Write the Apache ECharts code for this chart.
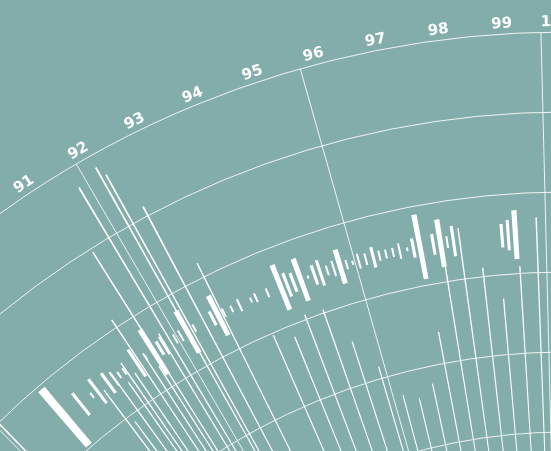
<!DOCTYPE html>
<html><head><meta charset="utf-8">
<script src="https://cdn.jsdelivr.net/npm/echarts@6/dist/echarts.min.js"></script>
<style>html,body{margin:0;padding:0;background:#83adaa;overflow:hidden}#c{width:551px;height:451px}</style>
</head><body><div id="c"></div>
<script>
// ---------- data ----------
// angle-axis tick labels
const angleLabels = [91, 92, 93, 94, 95, 96, 97, 98, 99, 100];
// thin spikes: [angle, outer radius]
const spikes = [
  [88.08, 107.4], [90.13, 94.5], [90.26, 89.0], [90.45, 95.5], [90.64, 93.5],
  [90.74, 96.0], [90.86, 94.0], [91.07, 101.1], [91.22, 95.5], [91.36, 93.0],
  [91.46, 109.5], [91.71, 96.5], [91.84, 117.3],
  [92.25, 118.4], [92.34, 117.0], [92.64, 111.3], [93.05, 101.9], [93.84, 89.7],
  [94.26, 88.5], [94.64, 90.6], [95.05, 90.4], [95.44, 85.5], [95.86, 81.5],
  [96.25, 77.3], [96.63, 76.4], [97.04, 77.8], [97.43, 84.0], [97.83, 92.0],
  [98.21, 96.4], [98.62, 91.1], [99.01, 87.0], [99.42, 90.9], [99.81, 96.9]
];
// waveform bars (centred on waveCenter): [angle, length]
const waveCenter = 94.875;
const waveHuge = [[89.15, 9.14]];
const waveLarge = [
  [91.43, 6.58], [92.24, 5.96], [92.96, 5.53], [94.38, 6.01], [94.82, 5.59],
  [95.68, 4.41], [97.38, 8.18], [97.81, 6.0], [99.37, 6.11]
];
const waveMedium = [
  [89.575, 3.48], [90.01, 3.75], [90.29, 3.03], [91.01, 4.03], [91.58, 1.95],
  [91.69, 2.54], [92.83, 1.96], [94.52, 3.13], [94.66, 2.5], [95.12, 2.55],
  [95.25, 3.3], [96.39, 2.6], [97.24, 2.44], [97.66, 2.63], [98.08, 3.84],
  [99.09, 2.95], [99.22, 3.8]
];
const waveSmall = [
  [89.87, 0.8], [90.44, 2.05], [90.57, 0.9], [90.70, 0.93], [91.23, 0.75],
  [91.95, 1.25], [92.08, 1.5], [92.40, 1.04], [93.09, 1.18], [93.27, 0.88],
  [93.45, 1.63], [93.71, 0.65], [93.82, 1.21], [94.08, 1.18], [94.98, 0.38],
  [95.40, 1.26], [95.54, 1.98], [95.82, 1.21], [95.95, 0.53], [96.08, 1.9],
  [96.23, 1.5], [96.52, 1.31], [96.66, 1.1], [96.81, 1.13], [96.95, 1.98],
  [97.11, 0.46], [97.95, 1.49]
];

// ---------- layout / style ----------
const BG = '#83adaa';
const LINE = 'rgba(255,255,255,0.85)';
const CENTER = [565, 1003];
const RADIUS = [11, 971];
const START = 91.42;
const labelRadius = 121.25;
const FONT = 'bold 15px "DejaVu Sans", sans-serif';

const polars = [];
const angleAxes = [];
const radiusAxes = [];
function addPolar(angleCfg, radiusCfg) {
  const i = polars.length;
  polars.push({ center: CENTER, radius: RADIUS });
  angleAxes.push(Object.assign({ polarIndex: i, type: 'value', min: 0, max: 100, startAngle: START, clockwise: true, show: false }, angleCfg || {}));
  radiusAxes.push(Object.assign({ polarIndex: i, type: 'value', min: 0, max: 120, show: false }, radiusCfg || {}));
  return i;
}
const hidden = { axisLine: { show: false }, axisTick: { show: false }, axisLabel: { show: false } };
// grid polar
const gridP = addPolar(
  Object.assign({ show: true, interval: 4, splitLine: { show: true, lineStyle: { color: LINE, width: 1 } } }, hidden),
  Object.assign({ show: true, interval: 10, splitLine: { show: true, lineStyle: { color: LINE, width: 1 } } }, hidden)
);
// label polar (labels are spread slightly wider than the grid)
const labelP = addPolar({ min: 10, max: 10 + 360 / 3.72, startAngle: 64.78 });
const spikeP = addPolar();
const series = [];
series.push({
  type: 'bar', coordinateSystem: 'polar', polarIndex: spikeP, barWidth: 0.105,
  itemStyle: { color: '#ffffff' }, silent: true,
  data: spikes.map(([a, t]) => [t, a])
});
[[waveHuge, 0.6], [waveLarge, 0.38], [waveMedium, 0.23], [waveSmall, 0.15]].forEach(([arr, w], k) => {
  const p = addPolar();
  series.push({
    type: 'bar', coordinateSystem: 'polar', polarIndex: p, stack: 'w' + k, barWidth: w, silent: true,
    itemStyle: { color: 'rgba(0,0,0,0)' },
    data: arr.map(([a, l]) => [waveCenter - l / 2, a])
  });
  series.push({
    type: 'bar', coordinateSystem: 'polar', polarIndex: p, stack: 'w' + k, barWidth: w, silent: true,
    itemStyle: { color: '#ffffff' },
    data: arr.map(([a, l]) => [l, a])
  });
});

const option = {
  backgroundColor: BG,
  animation: false,
  polar: polars,
  angleAxis: angleAxes,
  radiusAxis: radiusAxes,
  series: series
};
const chart = echarts.init(document.getElementById('c'));
chart.setOption(option);
const lastLabel = angleLabels[angleLabels.length - 1];
const graphics = angleLabels.map(v => {
  // the closing label starts at its grid tick; the others are centred on the label scale
  const atEnd = v === lastLabel;
  const pIdx = atEnd ? gridP : labelP;
  const p = chart.convertToPixel({ polarIndex: pIdx }, [labelRadius, v]);
  const q = chart.convertToPixel({ polarIndex: pIdx }, [0, v]);
  const rot = Math.atan2(-(p[0] - q[0]), -(p[1] - q[1]));
  return { type: 'text', x: p[0], y: p[1], rotation: rot, silent: true,
    style: { text: String(v), fill: '#ffffff', font: FONT, align: atEnd ? 'left' : 'center', verticalAlign: 'middle' } };
});
chart.setOption({ graphic: graphics });
</script>
</body></html>
